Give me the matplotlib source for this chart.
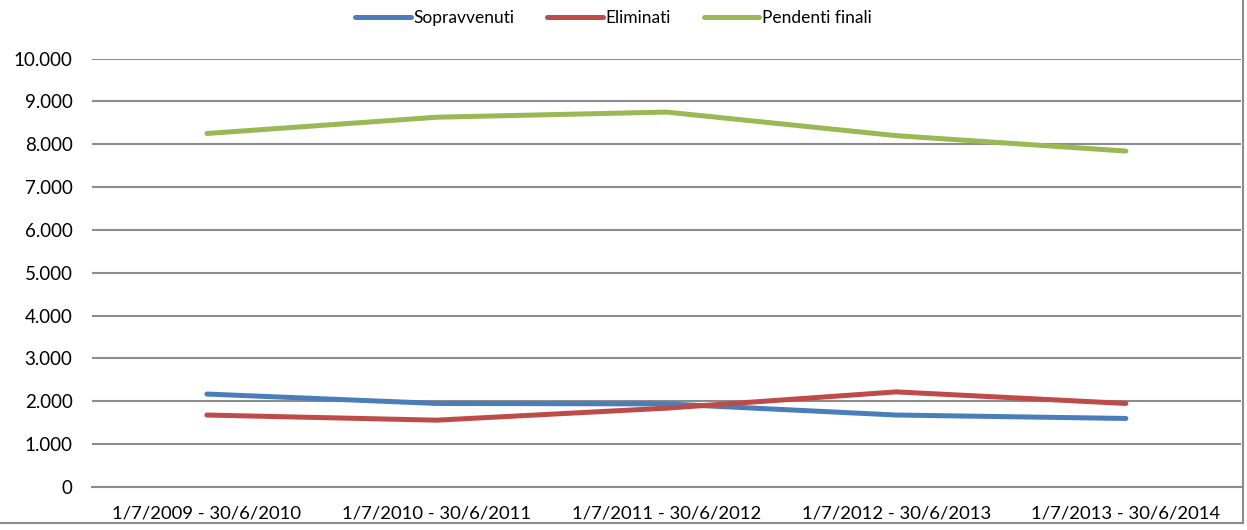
import matplotlib.pyplot as plt
from matplotlib.lines import Line2D
from matplotlib.ticker import FuncFormatter

periodi = ["1/7/2009 - 30/6/2010", "1/7/2010 - 30/6/2011", "1/7/2011 - 30/6/2012",
           "1/7/2012 - 30/6/2013", "1/7/2013 - 30/6/2014"]
sopravvenuti = [2170, 1950, 1940, 1680, 1600]
eliminati = [1680, 1560, 1840, 2220, 1950]
pendenti = [8250, 8630, 8750, 8200, 7840]

plt.rcParams['font.family'] = ['Lato', 'DejaVu Sans']

fig = plt.figure(figsize=(12.47, 5.30), dpi=100)
ax = fig.add_axes([0.0738, 0.0811, 0.9212, 0.8085])

x = range(len(periodi))
ax.plot(x, sopravvenuti, color='#4A7EBB', lw=3.6, solid_capstyle='round', label='Sopravvenuti')
ax.plot(x, eliminati, color='#BE4B48', lw=3.6, solid_capstyle='round', label='Eliminati')
ax.plot(x, pendenti, color='#98B954', lw=3.6, solid_capstyle='round', label='Pendenti finali')

ax.set_xlim(-0.5, len(periodi) - 0.5)
ax.set_ylim(0, 10000)
ax.set_yticks(range(0, 10001, 1000))
ax.yaxis.set_major_formatter(FuncFormatter(lambda v, p: f"{int(v):,}".replace(",", ".")))
ax.set_xticks(list(x))
ax.set_xticklabels(periodi)
ax.tick_params(axis='y', length=0, labelsize=13.5, colors='black', pad=14)
ax.tick_params(axis='x', length=0, labelsize=13.3, colors='black', pad=13)

ax.grid(True, axis='y', color='#8c8c8c', lw=1.5)
ax.set_axisbelow(True)
for s in ['top', 'left', 'right']:
    ax.spines[s].set_visible(False)
ax.spines['bottom'].set_color('#8c8c8c')
ax.spines['bottom'].set_linewidth(1.5)

leg = fig.legend(loc='upper center', bbox_to_anchor=(0.492, 1.01), ncol=3, frameon=False,
                 fontsize=12.5, handlelength=3.2, handletextpad=0.15, columnspacing=1.9)

# bordo grafico
fig.add_artist(Line2D([0.997, 0.997], [0.013, 1.0], color='#8c8c8c', lw=1.5))
fig.add_artist(Line2D([0.0, 0.997], [0.013, 0.013], color='#8c8c8c', lw=1.5))

fig.savefig('out.png', dpi=100)
